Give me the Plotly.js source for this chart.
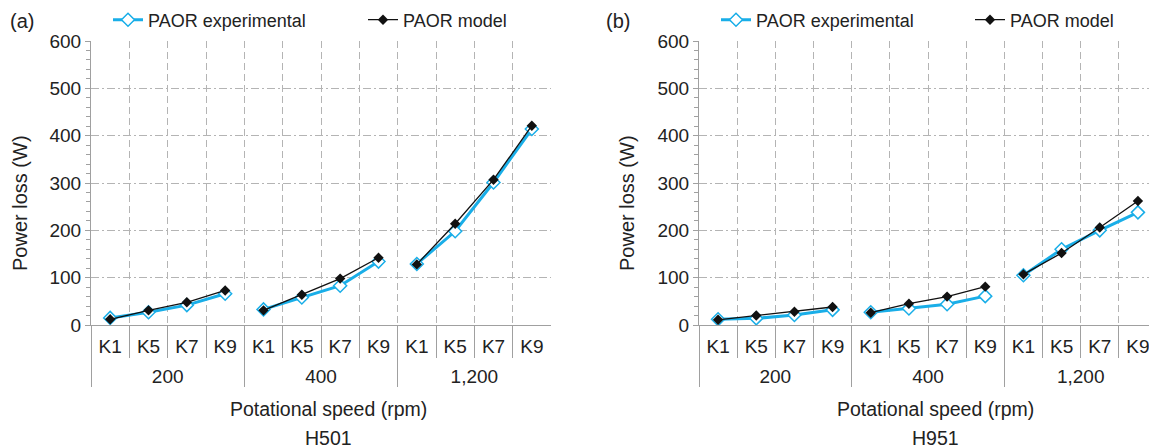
<!DOCTYPE html>
<html>
<head>
<meta charset="utf-8">
<script src="https://cdn.plot.ly/plotly-3.0.1.min.js"></script>
<style>
html,body{margin:0;padding:0;overflow:hidden;background:#fff;}
#chart{width:1160px;height:448px;}
</style>
</head>
<body>
<div id="chart"></div>
<script>
// ---- data ----
const speedGroups = ['200', '400', '1,200'];
const kLabels = ['K1', 'K5', 'K7', 'K9'];
const h501Experimental = [15, 27, 42, 66, 33, 58, 83, 134, 129, 198, 301, 414];
const h501Model        = [12, 31, 48, 73, 31, 64, 98, 142, 128, 214, 307, 421];
const h951Experimental = [12, 14, 21, 32, 27, 35, 44, 61, 105, 160, 200, 238];
const h951Model        = [11, 20, 28, 38, 26, 45, 60, 81, 107, 152, 206, 262];
const panelNames = ['H501', 'H951'];
const seriesNames = ['PAOR experimental', 'PAOR model'];

// ---- layout helpers ----
const W = 1160, H = 448;
const px = v => v / W;
const py = v => 1 - v / H;
const FONT = 'Liberation Sans, Arial, Helvetica, sans-serif';
const BLUE = '#19aee8';
const GRID = '#b4b4b4';
const AXIS = '#a0a0a0';
// outer-level label drawn a little lower, as in the reference
const groupLabel = g => '<span style="baseline-shift:-11px">' + g + '</span>';

function groupTraces(values, axisSuffix, isModel, legendId) {
  const traces = [];
  speedGroups.forEach((g, gi) => {
    const xs = [kLabels.map(() => groupLabel(g)), kLabels.slice()];
    const ys = values.slice(gi * kLabels.length, (gi + 1) * kLabels.length);
    traces.push({
      type: 'scatter', mode: 'lines+markers',
      x: xs, y: ys,
      xaxis: 'x' + axisSuffix, yaxis: 'y' + axisSuffix,
      name: isModel ? seriesNames[1] : seriesNames[0],
      legend: legendId,
      legendgroup: legendId,
      showlegend: gi === 0,
      line: isModel ? {color: '#111', width: 1.3} : {color: BLUE, width: 3},
      marker: isModel
        ? {symbol: 'diamond', size: 8, color: '#111', line: {width: 0}}
        : {symbol: 'diamond', size: 10, color: '#ffffff', line: {color: BLUE, width: 1.5}},
      hoverinfo: 'skip'
    });
  });
  return traces;
}

const data = [
  ...groupTraces(h501Experimental, '', false, 'legend'),
  ...groupTraces(h501Model, '', true, 'legend2'),
  ...groupTraces(h951Experimental, '2', false, 'legend3'),
  ...groupTraces(h951Model, '2', true, 'legend4'),
];

const nCats = speedGroups.length * kLabels.length;
const yDomain = [py(325), py(41)];

function xAxis(domain, anchor) {
  return {
    type: 'multicategory', domain: domain, anchor: anchor,
    range: [-0.5, nCats - 0.5], autorange: false,
    showline: true, linecolor: AXIS, linewidth: 1,
    showgrid: true, gridcolor: GRID, gridwidth: 1, griddash: '7px,4px',
    ticks: 'outside', tickson: 'boundaries', ticklen: 32, tickcolor: AXIS, tickwidth: 1,
    showdividers: true, dividercolor: AXIS, dividerwidth: 1,
    ticklabelstandoff: 4,
    tickfont: {family: FONT, size: 19, color: '#222'},
    zeroline: false, fixedrange: true, automargin: false
  };
}
function yAxis(anchor) {
  return {
    domain: yDomain, anchor: anchor, range: [0, 600],
    tickvals: [0, 100, 200, 300, 400, 500, 600],
    showline: true, linecolor: AXIS, linewidth: 1,
    showgrid: true, gridcolor: GRID, gridwidth: 1, griddash: '8px,3px,2px,3px',
    ticks: 'outside', ticklen: 5, tickcolor: AXIS,
    minor: {dtick: 20, ticks: 'outside', ticklen: 4, tickcolor: AXIS, showgrid: false},
    tickfont: {family: FONT, size: 19, color: '#222'},
    zeroline: false, fixedrange: true, automargin: false
  };
}

function legendAt(xpx) {
  return {
    x: px(xpx), y: py(20), xanchor: 'left', yanchor: 'middle',
    orientation: 'h', itemwidth: 30,
    font: {family: FONT, size: 18, color: '#222'},
    bgcolor: 'rgba(0,0,0,0)', borderwidth: 0,
    itemclick: false, itemdoubleclick: false
  };
}

function ann(text, xpx, ypx, size, opts) {
  return Object.assign({
    text: text, xref: 'paper', yref: 'paper',
    x: px(xpx), y: py(ypx), xanchor: 'center', yanchor: 'middle',
    showarrow: false, font: {family: FONT, size: size, color: '#222'}
  }, opts || {});
}

const layout = {
  width: W, height: H,
  margin: {l: 0, r: 0, t: 0, b: 0, autoexpand: false},
  paper_bgcolor: '#fff', plot_bgcolor: '#fff',
  font: {family: FONT, color: '#222'},
  xaxis: xAxis([px(91), px(551)], 'y'),
  yaxis: yAxis('x'),
  xaxis2: xAxis([px(699), px(1157)], 'y2'),
  yaxis2: yAxis('x2'),
  legend: legendAt(108),
  legend2: legendAt(363),
  legend3: legendAt(716),
  legend4: legendAt(970),
  annotations: [
    ann('(a)', 8, 21, 20, {xanchor: 'left'}),
    ann('(b)', 604, 21, 20, {xanchor: 'left'}),
    ann('Power loss (W)', 20, 203, 20, {textangle: -90}),
    ann('Power loss (W)', 627, 203, 20, {textangle: -90}),
    ann('Potational speed (rpm)', 328, 409, 19.5),
    ann(panelNames[0], 328, 438, 19.5),
    ann('Potational speed (rpm)', 935, 409, 19.5),
    ann(panelNames[1], 935, 438, 19.5)
  ],
  showlegend: true
};

Plotly.newPlot('chart', data, layout, {staticPlot: true, displayModeBar: false});
</script>
</body>
</html>
